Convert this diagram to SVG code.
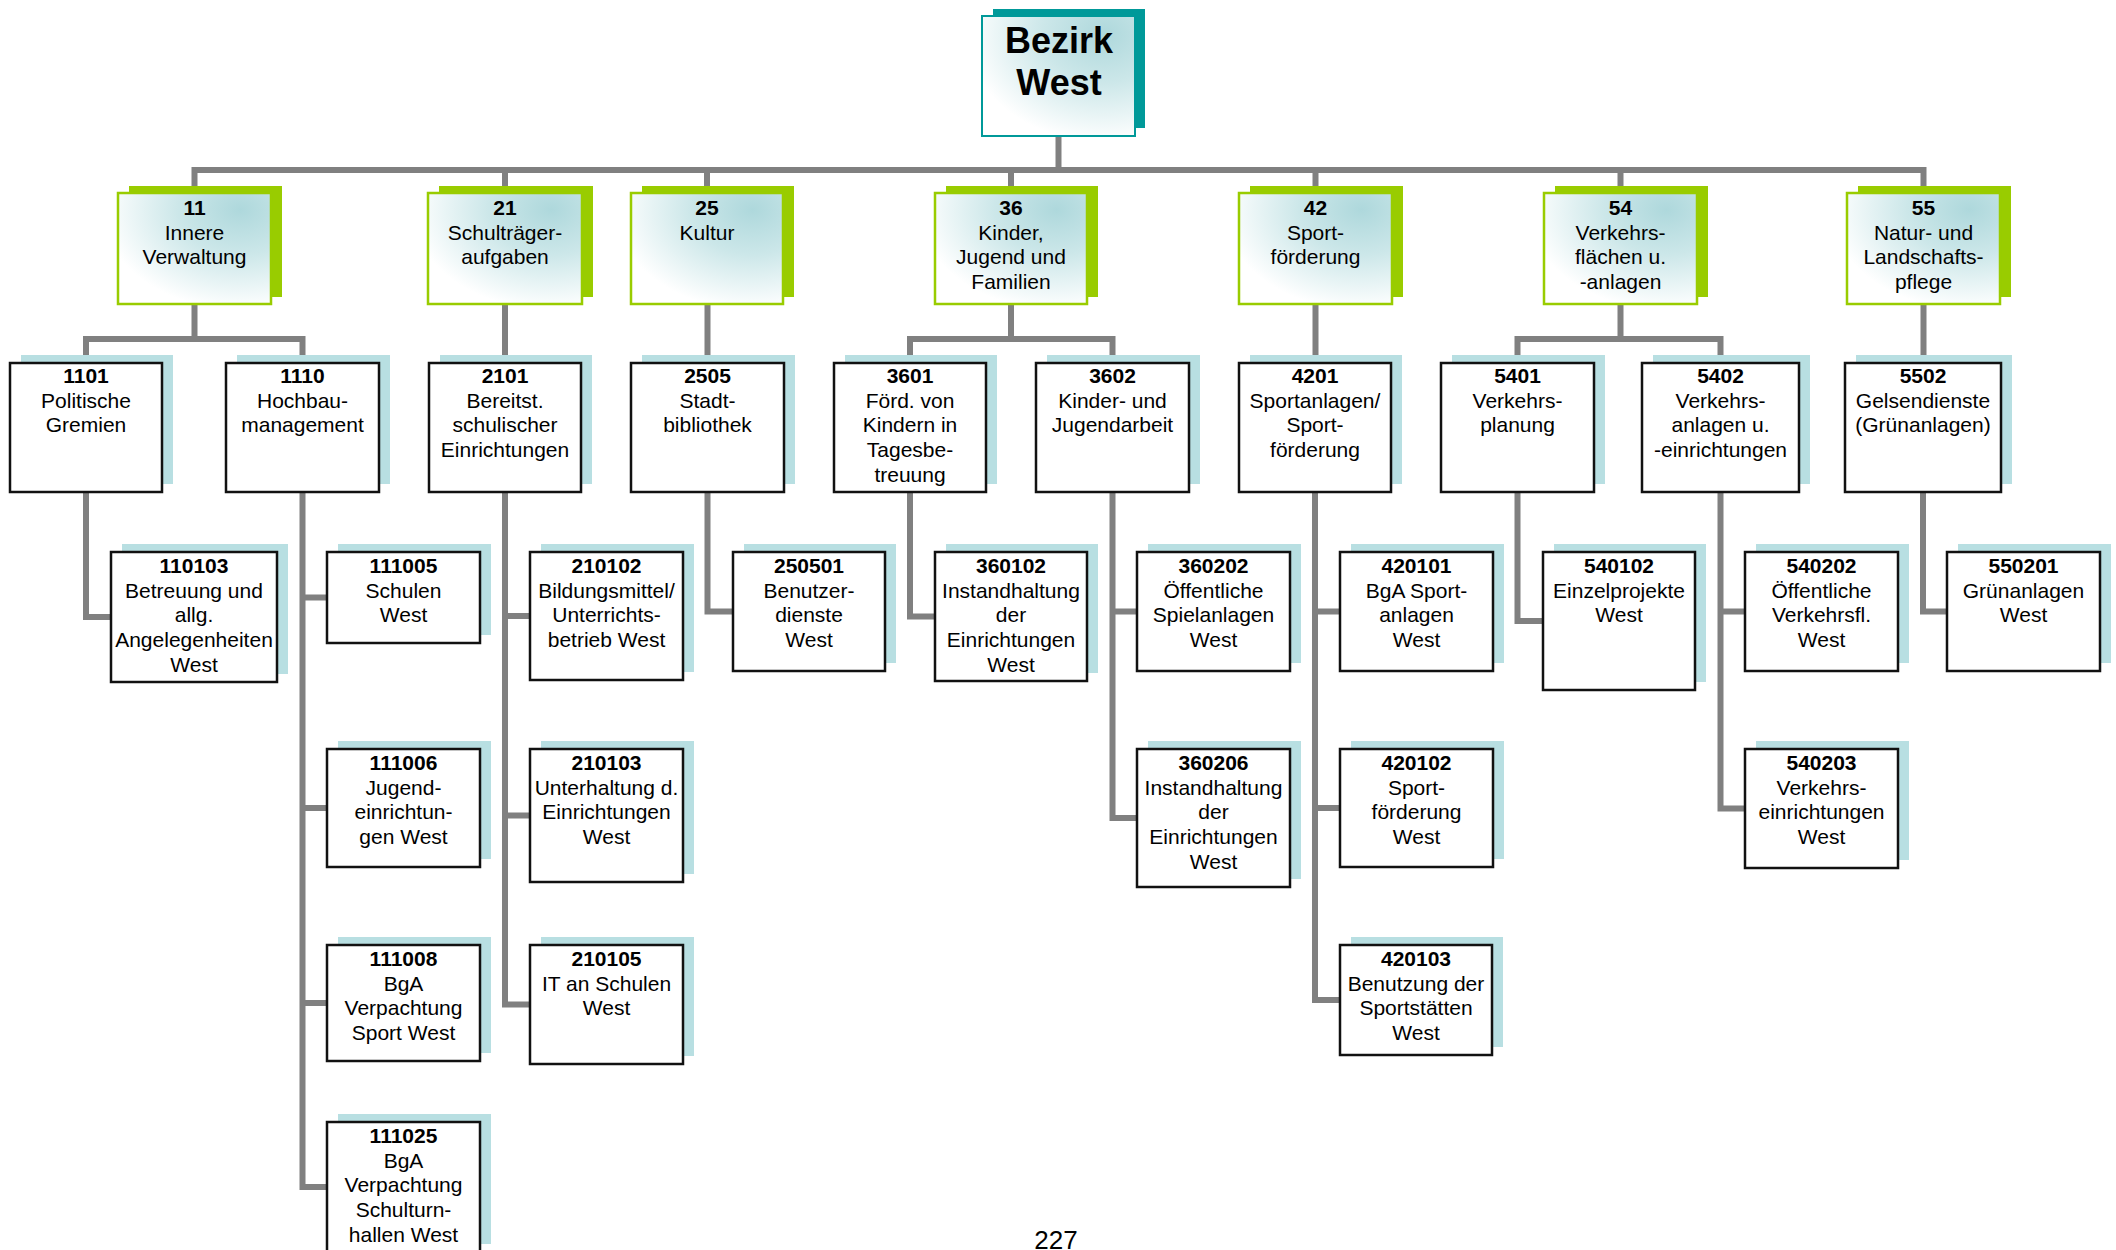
<svg xmlns="http://www.w3.org/2000/svg" width="2116" height="1250" viewBox="0 0 2116 1250">
<defs>
<radialGradient id="grad" cx="0.8" cy="0.15" r="0.9" fx="0.8" fy="0.15">
<stop offset="0" stop-color="#aed8dc"/>
<stop offset="0.45" stop-color="#cce7e9"/>
<stop offset="1" stop-color="#ffffff"/>
</radialGradient>
</defs>
<style>
text{font-family:"Liberation Sans",Arial,sans-serif;font-size:21px;fill:#000;text-anchor:middle}
.b{font-weight:bold}
.top{font-size:36px;font-weight:bold}
.pg{font-size:26px}
.ts{fill:#009999}
.tb{fill:url(#grad);stroke:#009999;stroke-width:2}
.gs{fill:#99cc00}
.gb{fill:url(#grad);stroke:#99cc00;stroke-width:2.5}
.bs{fill:#b8dfe2}
.wb{fill:#ffffff;stroke:#111111;stroke-width:2.5}
.con path{fill:none;stroke:#808080;stroke-width:6;stroke-linejoin:miter}
</style>
<rect width="2116" height="1250" fill="#ffffff"/>
<g id="connectors" class="con">
<path d="M1058.5,136 V170"/>
<path d="M194.5,193 V170 H1923.5 V193"/>
<path d="M505,170 V193 M707,170 V193 M1011,170 V193 M1315.5,170 V193 M1620.5,170 V193"/>
<path d="M194.5,304 V339 M86,363 V339 H302.5 V363"/>
<path d="M505,304 V363 M707.5,304 V363 M1315.5,304 V363 M1923.5,304 V363"/>
<path d="M1011,304 V339 M910,363 V339 H1112.5 V363"/>
<path d="M1620.5,304 V339 M1517.5,363 V339 H1720.5 V363"/>
<path d="M86,492 V617 H111"/>
<path d="M302.5,492 V1187 H327 M302.5,597.5 H327 M302.5,808 H327 M302.5,1003 H327"/>
<path d="M505,492 V1004.5 H530 M505,616 H530 M505,815.5 H530"/>
<path d="M707.5,492 V611.5 H733"/>
<path d="M910,492 V616.5 H935"/>
<path d="M1112.5,492 V818 H1137 M1112.5,611.5 H1137"/>
<path d="M1315,492 V1000 H1340 M1315,611.5 H1340 M1315,808 H1340"/>
<path d="M1517.5,492 V621 H1543"/>
<path d="M1720.5,492 V808.5 H1745 M1720.5,611.5 H1745"/>
<path d="M1923,492 V611.5 H1947"/>
</g>
<g id="bezirk">
<rect class="ts" x="993" y="9" width="152" height="119"/>
<rect class="tb" x="982" y="16" width="153" height="120"/>
<text class="top" x="1059" y="53">Bezirk<tspan x="1059" dy="42">West</tspan></text>
</g>
<g id="n11"><rect class="gs" x="129" y="186" width="153" height="111"/><rect class="gb" x="118" y="193" width="153" height="111"/>
<text x="194.5" y="215"><tspan class="b">11</tspan><tspan x="194.5" dy="24.7">Innere</tspan><tspan x="194.5" dy="24.7">Verwaltung</tspan></text></g>
<g id="n21"><rect class="gs" x="439" y="186" width="154" height="111"/><rect class="gb" x="428" y="193" width="154" height="111"/>
<text x="505" y="215"><tspan class="b">21</tspan><tspan x="505" dy="24.7">Schulträger-</tspan><tspan x="505" dy="24.7">aufgaben</tspan></text></g>
<g id="n25"><rect class="gs" x="642" y="186" width="152" height="111"/><rect class="gb" x="631" y="193" width="152" height="111"/>
<text x="707" y="215"><tspan class="b">25</tspan><tspan x="707" dy="24.7">Kultur</tspan></text></g>
<g id="n36"><rect class="gs" x="946" y="186" width="152" height="111"/><rect class="gb" x="935" y="193" width="152" height="111"/>
<text x="1011" y="215"><tspan class="b">36</tspan><tspan x="1011" dy="24.7">Kinder,</tspan><tspan x="1011" dy="24.7">Jugend und</tspan><tspan x="1011" dy="24.7">Familien</tspan></text></g>
<g id="n42"><rect class="gs" x="1250" y="186" width="153" height="111"/><rect class="gb" x="1239" y="193" width="153" height="111"/>
<text x="1315.5" y="215"><tspan class="b">42</tspan><tspan x="1315.5" dy="24.7">Sport-</tspan><tspan x="1315.5" dy="24.7">förderung</tspan></text></g>
<g id="n54"><rect class="gs" x="1555" y="186" width="153" height="111"/><rect class="gb" x="1544" y="193" width="153" height="111"/>
<text x="1620.5" y="215"><tspan class="b">54</tspan><tspan x="1620.5" dy="24.7">Verkehrs-</tspan><tspan x="1620.5" dy="24.7">flächen u.</tspan><tspan x="1620.5" dy="24.7">-anlagen</tspan></text></g>
<g id="n55"><rect class="gs" x="1858" y="186" width="153" height="111"/><rect class="gb" x="1847" y="193" width="153" height="111"/>
<text x="1923.5" y="215"><tspan class="b">55</tspan><tspan x="1923.5" dy="24.7">Natur- und</tspan><tspan x="1923.5" dy="24.7">Landschafts-</tspan><tspan x="1923.5" dy="24.7">pflege</tspan></text></g>
<g id="n1101"><rect class="bs" x="21" y="355" width="152" height="129"/><rect class="wb" x="10" y="363" width="152" height="129"/>
<text x="86" y="383"><tspan class="b">1101</tspan><tspan x="86" dy="24.7">Politische</tspan><tspan x="86" dy="24.7">Gremien</tspan></text></g>
<g id="n1110"><rect class="bs" x="237" y="355" width="153" height="129"/><rect class="wb" x="226" y="363" width="153" height="129"/>
<text x="302.5" y="383"><tspan class="b">1110</tspan><tspan x="302.5" dy="24.7">Hochbau-</tspan><tspan x="302.5" dy="24.7">management</tspan></text></g>
<g id="n2101"><rect class="bs" x="440" y="355" width="152" height="129"/><rect class="wb" x="429" y="363" width="152" height="129"/>
<text x="505" y="383"><tspan class="b">2101</tspan><tspan x="505" dy="24.7">Bereitst.</tspan><tspan x="505" dy="24.7">schulischer</tspan><tspan x="505" dy="24.7">Einrichtungen</tspan></text></g>
<g id="n2505"><rect class="bs" x="642" y="355" width="153" height="129"/><rect class="wb" x="631" y="363" width="153" height="129"/>
<text x="707.5" y="383"><tspan class="b">2505</tspan><tspan x="707.5" dy="24.7">Stadt-</tspan><tspan x="707.5" dy="24.7">bibliothek</tspan></text></g>
<g id="n3601"><rect class="bs" x="845" y="355" width="152" height="129"/><rect class="wb" x="834" y="363" width="152" height="129"/>
<text x="910" y="383"><tspan class="b">3601</tspan><tspan x="910" dy="24.7">Förd. von</tspan><tspan x="910" dy="24.7">Kindern in</tspan><tspan x="910" dy="24.7">Tagesbe-</tspan><tspan x="910" dy="24.7">treuung</tspan></text></g>
<g id="n3602"><rect class="bs" x="1047" y="355" width="153" height="129"/><rect class="wb" x="1036" y="363" width="153" height="129"/>
<text x="1112.5" y="383"><tspan class="b">3602</tspan><tspan x="1112.5" dy="24.7">Kinder- und</tspan><tspan x="1112.5" dy="24.7">Jugendarbeit</tspan></text></g>
<g id="n4201"><rect class="bs" x="1250" y="355" width="152" height="129"/><rect class="wb" x="1239" y="363" width="152" height="129"/>
<text x="1315" y="383"><tspan class="b">4201</tspan><tspan x="1315" dy="24.7">Sportanlagen/</tspan><tspan x="1315" dy="24.7">Sport-</tspan><tspan x="1315" dy="24.7">förderung</tspan></text></g>
<g id="n5401"><rect class="bs" x="1452" y="355" width="153" height="129"/><rect class="wb" x="1441" y="363" width="153" height="129"/>
<text x="1517.5" y="383"><tspan class="b">5401</tspan><tspan x="1517.5" dy="24.7">Verkehrs-</tspan><tspan x="1517.5" dy="24.7">planung</tspan></text></g>
<g id="n5402"><rect class="bs" x="1653" y="355" width="157" height="129"/><rect class="wb" x="1642" y="363" width="157" height="129"/>
<text x="1720.5" y="383"><tspan class="b">5402</tspan><tspan x="1720.5" dy="24.7">Verkehrs-</tspan><tspan x="1720.5" dy="24.7">anlagen u.</tspan><tspan x="1720.5" dy="24.7">-einrichtungen</tspan></text></g>
<g id="n5502"><rect class="bs" x="1856" y="355" width="156" height="129"/><rect class="wb" x="1845" y="363" width="156" height="129"/>
<text x="1923" y="383"><tspan class="b">5502</tspan><tspan x="1923" dy="24.7">Gelsendienste</tspan><tspan x="1923" dy="24.7">(Grünanlagen)</tspan></text></g>
<g id="n110103"><rect class="bs" x="122" y="544" width="166" height="130"/><rect class="wb" x="111" y="552" width="166" height="130"/>
<text x="194" y="573"><tspan class="b">110103</tspan><tspan x="194" dy="24.7">Betreuung und</tspan><tspan x="194" dy="24.7">allg.</tspan><tspan x="194" dy="24.7">Angelegenheiten</tspan><tspan x="194" dy="24.7">West</tspan></text></g>
<g id="n111005"><rect class="bs" x="338" y="544" width="153" height="91"/><rect class="wb" x="327" y="552" width="153" height="91"/>
<text x="403.5" y="573"><tspan class="b">111005</tspan><tspan x="403.5" dy="24.7">Schulen</tspan><tspan x="403.5" dy="24.7">West</tspan></text></g>
<g id="n111006"><rect class="bs" x="338" y="741" width="153" height="118"/><rect class="wb" x="327" y="749" width="153" height="118"/>
<text x="403.5" y="770"><tspan class="b">111006</tspan><tspan x="403.5" dy="24.7">Jugend-</tspan><tspan x="403.5" dy="24.7">einrichtun-</tspan><tspan x="403.5" dy="24.7">gen West</tspan></text></g>
<g id="n111008"><rect class="bs" x="338" y="937" width="153" height="116"/><rect class="wb" x="327" y="945" width="153" height="116"/>
<text x="403.5" y="966"><tspan class="b">111008</tspan><tspan x="403.5" dy="24.7">BgA</tspan><tspan x="403.5" dy="24.7">Verpachtung</tspan><tspan x="403.5" dy="24.7">Sport West</tspan></text></g>
<g id="n111025"><rect class="bs" x="338" y="1114" width="153" height="130"/><rect class="wb" x="327" y="1122" width="153" height="130"/>
<text x="403.5" y="1143"><tspan class="b">111025</tspan><tspan x="403.5" dy="24.7">BgA</tspan><tspan x="403.5" dy="24.7">Verpachtung</tspan><tspan x="403.5" dy="24.7">Schulturn-</tspan><tspan x="403.5" dy="24.7">hallen West</tspan></text></g>
<g id="n210102"><rect class="bs" x="541" y="544" width="153" height="128"/><rect class="wb" x="530" y="552" width="153" height="128"/>
<text x="606.5" y="573"><tspan class="b">210102</tspan><tspan x="606.5" dy="24.7">Bildungsmittel/</tspan><tspan x="606.5" dy="24.7">Unterrichts-</tspan><tspan x="606.5" dy="24.7">betrieb West</tspan></text></g>
<g id="n210103"><rect class="bs" x="541" y="741" width="153" height="133"/><rect class="wb" x="530" y="749" width="153" height="133"/>
<text x="606.5" y="770"><tspan class="b">210103</tspan><tspan x="606.5" dy="24.7">Unterhaltung d.</tspan><tspan x="606.5" dy="24.7">Einrichtungen</tspan><tspan x="606.5" dy="24.7">West</tspan></text></g>
<g id="n210105"><rect class="bs" x="541" y="937" width="153" height="119"/><rect class="wb" x="530" y="945" width="153" height="119"/>
<text x="606.5" y="966"><tspan class="b">210105</tspan><tspan x="606.5" dy="24.7">IT an Schulen</tspan><tspan x="606.5" dy="24.7">West</tspan></text></g>
<g id="n250501"><rect class="bs" x="744" y="544" width="152" height="119"/><rect class="wb" x="733" y="552" width="152" height="119"/>
<text x="809" y="573"><tspan class="b">250501</tspan><tspan x="809" dy="24.7">Benutzer-</tspan><tspan x="809" dy="24.7">dienste</tspan><tspan x="809" dy="24.7">West</tspan></text></g>
<g id="n360102"><rect class="bs" x="946" y="544" width="152" height="129"/><rect class="wb" x="935" y="552" width="152" height="129"/>
<text x="1011" y="573"><tspan class="b">360102</tspan><tspan x="1011" dy="24.7">Instandhaltung</tspan><tspan x="1011" dy="24.7">der</tspan><tspan x="1011" dy="24.7">Einrichtungen</tspan><tspan x="1011" dy="24.7">West</tspan></text></g>
<g id="n360202"><rect class="bs" x="1148" y="544" width="153" height="119"/><rect class="wb" x="1137" y="552" width="153" height="119"/>
<text x="1213.5" y="573"><tspan class="b">360202</tspan><tspan x="1213.5" dy="24.7">Öffentliche</tspan><tspan x="1213.5" dy="24.7">Spielanlagen</tspan><tspan x="1213.5" dy="24.7">West</tspan></text></g>
<g id="n360206"><rect class="bs" x="1148" y="741" width="153" height="138"/><rect class="wb" x="1137" y="749" width="153" height="138"/>
<text x="1213.5" y="770"><tspan class="b">360206</tspan><tspan x="1213.5" dy="24.7">Instandhaltung</tspan><tspan x="1213.5" dy="24.7">der</tspan><tspan x="1213.5" dy="24.7">Einrichtungen</tspan><tspan x="1213.5" dy="24.7">West</tspan></text></g>
<g id="n420101"><rect class="bs" x="1351" y="544" width="153" height="119"/><rect class="wb" x="1340" y="552" width="153" height="119"/>
<text x="1416.5" y="573"><tspan class="b">420101</tspan><tspan x="1416.5" dy="24.7">BgA Sport-</tspan><tspan x="1416.5" dy="24.7">anlagen</tspan><tspan x="1416.5" dy="24.7">West</tspan></text></g>
<g id="n420102"><rect class="bs" x="1351" y="741" width="153" height="118"/><rect class="wb" x="1340" y="749" width="153" height="118"/>
<text x="1416.5" y="770"><tspan class="b">420102</tspan><tspan x="1416.5" dy="24.7">Sport-</tspan><tspan x="1416.5" dy="24.7">förderung</tspan><tspan x="1416.5" dy="24.7">West</tspan></text></g>
<g id="n420103"><rect class="bs" x="1351" y="937" width="152" height="110"/><rect class="wb" x="1340" y="945" width="152" height="110"/>
<text x="1416" y="966"><tspan class="b">420103</tspan><tspan x="1416" dy="24.7">Benutzung der</tspan><tspan x="1416" dy="24.7">Sportstätten</tspan><tspan x="1416" dy="24.7">West</tspan></text></g>
<g id="n540102"><rect class="bs" x="1554" y="544" width="152" height="138"/><rect class="wb" x="1543" y="552" width="152" height="138"/>
<text x="1619" y="573"><tspan class="b">540102</tspan><tspan x="1619" dy="24.7">Einzelprojekte</tspan><tspan x="1619" dy="24.7">West</tspan></text></g>
<g id="n540202"><rect class="bs" x="1756" y="544" width="153" height="119"/><rect class="wb" x="1745" y="552" width="153" height="119"/>
<text x="1821.5" y="573"><tspan class="b">540202</tspan><tspan x="1821.5" dy="24.7">Öffentliche</tspan><tspan x="1821.5" dy="24.7">Verkehrsfl.</tspan><tspan x="1821.5" dy="24.7">West</tspan></text></g>
<g id="n540203"><rect class="bs" x="1756" y="741" width="153" height="119"/><rect class="wb" x="1745" y="749" width="153" height="119"/>
<text x="1821.5" y="770"><tspan class="b">540203</tspan><tspan x="1821.5" dy="24.7">Verkehrs-</tspan><tspan x="1821.5" dy="24.7">einrichtungen</tspan><tspan x="1821.5" dy="24.7">West</tspan></text></g>
<g id="n550201"><rect class="bs" x="1958" y="544" width="153" height="119"/><rect class="wb" x="1947" y="552" width="153" height="119"/>
<text x="2023.5" y="573"><tspan class="b">550201</tspan><tspan x="2023.5" dy="24.7">Grünanlagen</tspan><tspan x="2023.5" dy="24.7">West</tspan></text></g>
<text class="pg" x="1056" y="1249">227</text>
</svg>
